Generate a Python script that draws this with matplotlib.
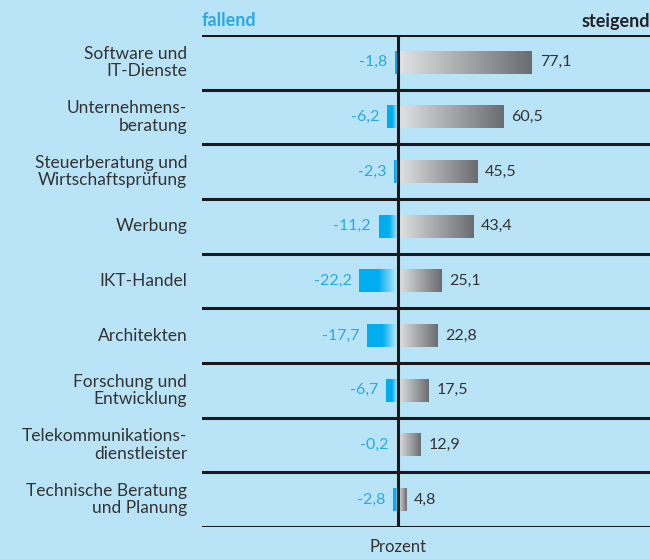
import numpy as np
import matplotlib.pyplot as plt
from matplotlib.colors import LinearSegmentedColormap

categories = ["Software und\nIT-Dienste", "Unternehmens-\nberatung", "Steuerberatung und\nWirtschaftsprüfung",
              "Werbung", "IKT-Handel", "Architekten", "Forschung und\nEntwicklung",
              "Telekommunikations-\ndienstleister", "Technische Beratung\nund Planung"]
falling = [-1.8, -6.2, -2.3, -11.2, -22.2, -17.7, -6.7, -0.2, -2.8]
rising = [77.1, 60.5, 45.5, 43.4, 25.1, 22.8, 17.5, 12.9, 4.8]

BG = "#b9e4f8"
CYAN = "#00aeef"
CYAN_TXT = "#29a9e1"
DARK = "#333333"

plt.rcParams['font.family'] = ['Lato', 'DejaVu Sans']

fig = plt.figure(figsize=(6.5, 5.59), dpi=100, facecolor=BG)
ax = fig.add_axes([202/650, 1-527/559, 448/650, (527-35)/559])
ax.set_facecolor(BG)
xmin, xmax = -112.8, 145.0
n = len(categories)
for s in ax.spines.values():
    s.set_visible(False)
ax.set_xticks([])
ax.set_yticks([])

gray_cmap = LinearSegmentedColormap.from_list("g", ["#e2e3e4", "#6b6c70"])
cyan_cmap = LinearSegmentedColormap.from_list("c", [CYAN, CYAN, "#c6ebfb"])
grad = np.linspace(0, 1, 256).reshape(1, -1)
h = 0.42

for i in range(n + 1):
    ax.axhline(i, color="#1a1a1a", lw=2.2, zorder=3)
ax.axvline(0, color="#1a1a1a", lw=2.2, zorder=4)

for i, (cat, f, r) in enumerate(zip(categories, falling, rising)):
    yc = i + 0.5
    ax.imshow(grad, cmap=gray_cmap, extent=(0, r, yc + h/2, yc - h/2), aspect='auto', zorder=2)
    ax.imshow(grad, cmap=cyan_cmap, extent=(f, 0, yc + h/2, yc - h/2), aspect='auto', zorder=2)
    ax.text(r + 4.5, yc, f"{r:.1f}".replace('.', ','), ha='left', va='center',
            fontsize=11.5, color=DARK)
    ax.text(min(f, -1.0) - 4.5, yc, f"{f:.1f}".replace('.', ','), ha='right', va='center',
            fontsize=11.5, color=CYAN_TXT)
    ax.text(-0.033, 1 - yc / n, cat, transform=ax.transAxes, ha='right', va='center',
            fontsize=12.5, color=DARK, linespacing=1.1)

ax.set_xlim(xmin, xmax)
ax.set_ylim(n, 0)

fig.text(202/650, 1-21/559, "fallend", ha='left', va='center', fontsize=13,
         fontweight='bold', color=CYAN_TXT)
fig.text(650/650, 1-21/559, "steigend", ha='right', va='center', fontsize=13,
         fontweight='bold', color="#222222")
fig.text(398/650, 1-547/559, "Prozent", ha='center', va='center', fontsize=12, color=DARK)

fig.savefig("out.png", dpi=100, facecolor=BG)
